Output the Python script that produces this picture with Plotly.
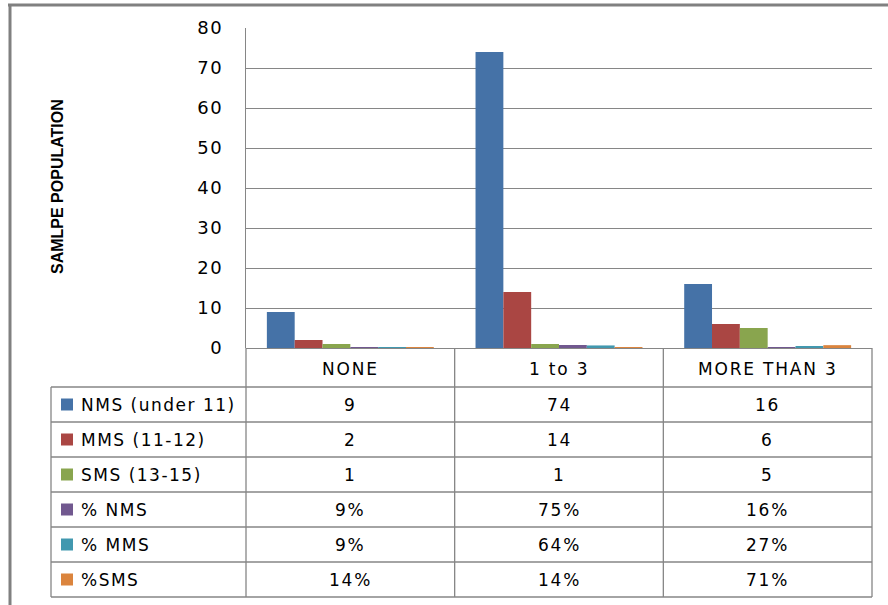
import plotly.graph_objects as go

# Data
categories = ["NONE", "1 to 3", "MORE THAN 3"]
series_names = ["NMS (under 11)", "MMS (11-12)", "SMS (13-15)", "% NMS", "% MMS", "%SMS"]
nms = [9, 74, 16]
mms = [2, 14, 6]
sms = [1, 1, 5]
pct_nms = [0.09, 0.75, 0.16]
pct_mms = [0.09, 0.64, 0.27]
pct_sms = [0.14, 0.14, 0.71]
y_ticks = [0, 10, 20, 30, 40, 50, 60, 70, 80]
colors = ["#4572A7", "#AA4643", "#89A54E", "#71588F", "#4198AF", "#DB843D"]

series_values = [nms, mms, sms, pct_nms, pct_mms, pct_sms]
is_percent = [False, False, False, True, True, True]

W, H = 888, 605


def px(x):
    return x / W


def py(y):
    return 1 - y / H


GRID = "#868686"
TXT_FONT = "DejaVu Sans"

# geometry of plot area and table (pixels)
PL, PR, PT, PB = 246, 872, 28, 348
TL = 51
ROW_H = 35
HDR_B = 387
TB = HDR_B + ROW_H * len(series_names)
col_w = (PR - PL) / len(categories)

fig = go.Figure()
for name, vals, col in zip(series_names, series_values, colors):
    fig.add_trace(go.Bar(x=categories, y=vals, name=name, marker=dict(color=col, line=dict(width=0))))


def spaced(t, ls=1.0):
    return f'<span style="letter-spacing:{ls}px">{t}</span>'


shapes = []
annotations = []

# outer frame (top and left edges)
shapes.append(dict(type="line", xref="paper", yref="paper", x0=px(8), x1=px(888), y0=py(5), y1=py(5),
                   line=dict(color="#808080", width=3)))
shapes.append(dict(type="line", xref="paper", yref="paper", x0=px(10), x1=px(10), y0=py(4), y1=py(605),
                   line=dict(color="#808080", width=3)))

# table horizontal lines
for i in range(len(series_names) + 1):
    yy = HDR_B + i * ROW_H
    shapes.append(dict(type="line", xref="paper", yref="paper", x0=px(TL), x1=px(PR), y0=py(yy), y1=py(yy),
                       line=dict(color=GRID, width=1.3)))
# table vertical lines
for j in range(len(categories) + 1):
    xx = PL + j * col_w
    shapes.append(dict(type="line", xref="paper", yref="paper", x0=px(xx), x1=px(xx), y0=py(PB), y1=py(TB),
                       line=dict(color=GRID, width=1.3)))
shapes.append(dict(type="line", xref="paper", yref="paper", x0=px(TL), x1=px(TL), y0=py(HDR_B), y1=py(TB),
                   line=dict(color=GRID, width=1.3)))

# header labels
for j, cat in enumerate(categories):
    annotations.append(dict(xref="paper", yref="paper", x=px(PL + (j + 0.5) * col_w), y=py((PB + HDR_B) / 2 + 1),
                            text=spaced(cat, 1.8), showarrow=False, xanchor="center", yanchor="middle",
                            font=dict(family=TXT_FONT, size=17, color="#000")))

# table rows
for i, (name, vals, col, pct) in enumerate(zip(series_names, series_values, colors, is_percent)):
    yc = HDR_B + (i + 0.5) * ROW_H
    shapes.append(dict(type="rect", xref="paper", yref="paper", x0=px(61), x1=px(73), y0=py(yc - 6), y1=py(yc + 6),
                       fillcolor=col, line=dict(width=0)))
    annotations.append(dict(xref="paper", yref="paper", x=px(79), y=py(yc), text=spaced(name, 1.5),
                            showarrow=False, xanchor="left", yanchor="middle",
                            font=dict(family=TXT_FONT, size=17, color="#000")))
    for j, v in enumerate(vals):
        label = f"{round(v * 100)}%" if pct else f"{v}"
        annotations.append(dict(xref="paper", yref="paper", x=px(PL + (j + 0.5) * col_w), y=py(yc),
                                text=spaced(label, 1.8), showarrow=False, xanchor="center", yanchor="middle",
                                font=dict(family=TXT_FONT, size=17, color="#000")))

# y axis title
annotations.append(dict(xref="paper", yref="paper", x=px(57), y=py(187), text="<b>SAMLPE POPULATION</b>",
                        textangle=-90, showarrow=False, xanchor="center", yanchor="middle",
                        font=dict(family="Liberation Sans Narrow, Liberation Sans", size=16, color="#000")))

fig.update_layout(
    width=W, height=H,
    margin=dict(l=0, r=0, t=0, b=0, autoexpand=False),
    paper_bgcolor="white", plot_bgcolor="white",
    barmode="group", bargap=0.2, bargroupgap=0,
    showlegend=False,
    xaxis=dict(domain=[px(PL), px(PR)], showticklabels=False, showgrid=False, zeroline=False,
               showline=False, ticks="", automargin=False),
    yaxis=dict(domain=[py(PB), py(PT)], range=[0, 80], tickvals=y_ticks,
               ticktext=[spaced(str(t), 1.5) for t in y_ticks], showgrid=True, gridcolor=GRID,
               gridwidth=1.3, zeroline=True, zerolinecolor=GRID, zerolinewidth=1.3,
               showline=True, linecolor=GRID, linewidth=1.3, ticks="", ticklabelstandoff=18,
               automargin=False, tickfont=dict(family=TXT_FONT, size=18, color="#000")),
    shapes=shapes,
    annotations=annotations,
)

fig.write_html("out.html")
